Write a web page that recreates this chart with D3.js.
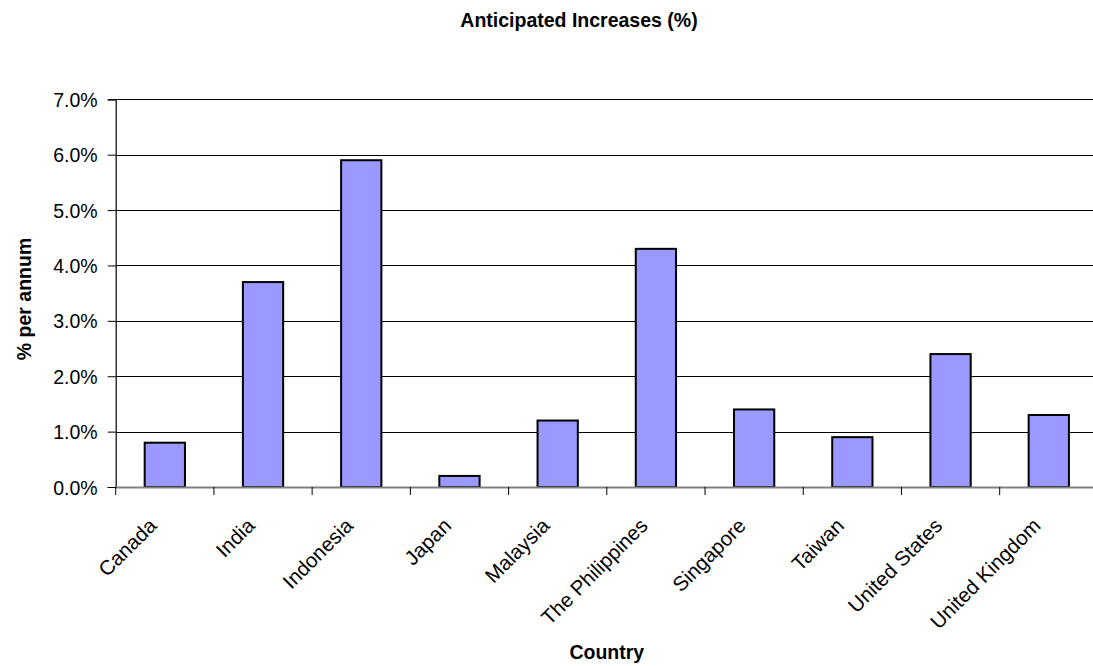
<!DOCTYPE html>
<html>
<head>
<meta charset="utf-8">
<script src="https://cdn.jsdelivr.net/npm/d3@7/dist/d3.min.js"></script>
<style>
  html, body { margin: 0; padding: 0; background: #fff; }
  svg { display: block; font-family: "Liberation Sans", Arial, sans-serif; }
</style>
</head>
<body>
<svg id="chart" width="1093" height="666"></svg>
<script>
// Anticipated annual increases by country
const countries = ["Canada", "India", "Indonesia", "Japan", "Malaysia",
  "The Philippines", "Singapore", "Taiwan", "United States", "United Kingdom"];
const increases = [0.008, 0.037, 0.059, 0.002, 0.012, 0.043, 0.014, 0.009, 0.024, 0.013];
const yTicks = [0, 0.01, 0.02, 0.03, 0.04, 0.05, 0.06, 0.07];

const titleText = "Anticipated Increases (%)";
const xTitle = "Country";
const yTitle = "% per annum";

const svg = d3.select("#chart");
const plotLeft = 115.7, plotRight = 1097.9, plotTop = 99.3, plotBottom = 487;

const x = d3.scaleBand()
  .domain(countries)
  .range([plotLeft, plotRight])
  .paddingInner(0.59)
  .paddingOuter(0.295);

const y = d3.scaleLinear().domain([0, 0.07]).range([plotBottom, plotTop]);
const fmt = d3.format(".1%");

// horizontal gridlines
svg.append("g")
  .selectAll("line")
  .data(yTicks.filter(d => d > 0))
  .join("line")
  .attr("x1", plotLeft).attr("x2", plotRight)
  .attr("y1", d => Math.round(y(d)) + 0.5).attr("y2", d => Math.round(y(d)) + 0.5)
  .attr("stroke", "#000").attr("stroke-width", 1);

// value axis
const yAxis = d3.axisLeft(y).tickValues(yTicks).tickFormat(fmt).tickSize(8).tickPadding(10);
const gy = svg.append("g").attr("transform", `translate(${plotLeft},0)`).call(yAxis);
gy.select(".domain").attr("stroke", "#000").attr("stroke-width", 1.2);
gy.selectAll(".tick line").attr("stroke", "#000");
gy.selectAll(".tick text")
  .attr("font-size", 19.5).attr("fill", "#000")
  .attr("font-family", "'Liberation Sans', Arial, sans-serif")
  .attr("dy", "0.36em");

// bars
svg.append("g")
  .selectAll("rect")
  .data(countries.map((c, i) => ({ c, v: increases[i] })))
  .join("rect")
  .attr("x", d => x(d.c))
  .attr("width", x.bandwidth())
  .attr("y", d => y(d.v))
  .attr("height", d => y(0) - y(d.v))
  .attr("fill", "#9999FF")
  .attr("stroke", "#000")
  .attr("stroke-width", 2);

// category axis
const xAxis = d3.axisBottom(x).tickSize(0).tickFormat("");
const gx = svg.append("g").attr("transform", `translate(0,${plotBottom})`).call(xAxis);
gx.select(".domain").attr("stroke", "#808080").attr("stroke-width", 2);

// category dividers below the axis
const step = x.step();
svg.append("g")
  .selectAll("line")
  .data(d3.range(countries.length))
  .join("line")
  .attr("x1", i => plotLeft + i * step).attr("x2", i => plotLeft + i * step)
  .attr("y1", plotBottom).attr("y2", plotBottom + 8)
  .attr("stroke", "#000").attr("stroke-width", 1);

// rotated category labels
svg.append("g")
  .selectAll("text")
  .data(countries)
  .join("text")
  .attr("transform", d => `translate(${x(d) + x.bandwidth() / 2 - 7},${plotBottom + 40}) rotate(-45)`)
  .attr("text-anchor", "end")
  .attr("font-size", 20.5)
  .attr("fill", "#000")
  .text(d => d);

// titles
svg.append("text")
  .attr("x", 579).attr("y", 27)
  .attr("text-anchor", "middle")
  .attr("font-size", 19.5).attr("font-weight", "bold")
  .text(titleText);

svg.append("text")
  .attr("x", (plotLeft + plotRight) / 2).attr("y", 659)
  .attr("text-anchor", "middle")
  .attr("font-size", 19.5).attr("font-weight", "bold")
  .text(xTitle);

svg.append("text")
  .attr("transform", `translate(31,299) rotate(-90)`)
  .attr("text-anchor", "middle")
  .attr("font-size", 19.5).attr("font-weight", "bold")
  .text(yTitle);
</script>
</body>
</html>
